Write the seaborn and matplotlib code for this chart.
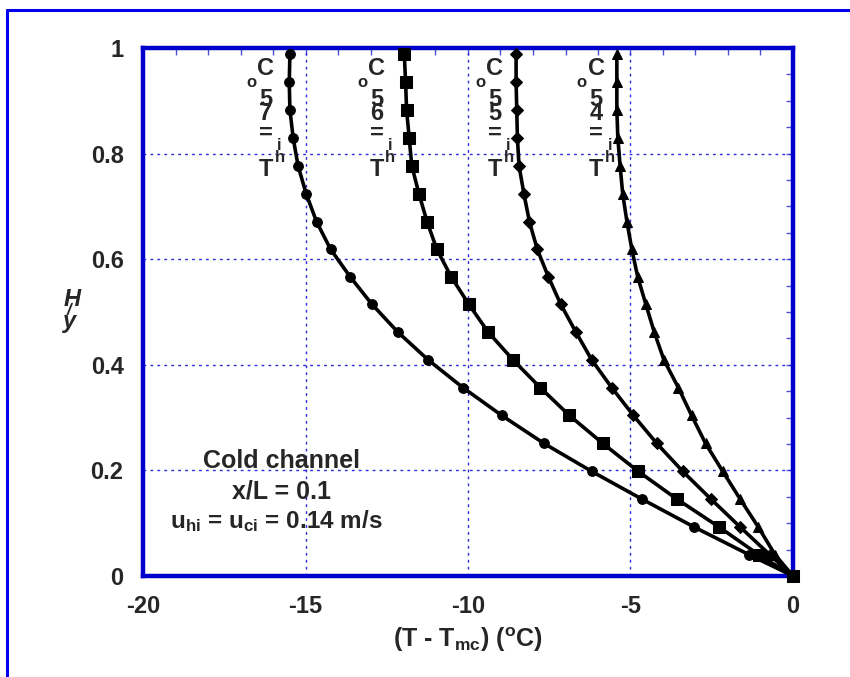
import matplotlib
matplotlib.use('Agg')
import pandas as pd
import matplotlib.pyplot as plt
from matplotlib.lines import Line2D
from matplotlib.ticker import MultipleLocator
import seaborn as sns

# y/H positions of the profile points
y_pos = [0, 0.040, 0.093, 0.146, 0.198, 0.251, 0.304, 0.357, 0.409, 0.462,
         0.515, 0.567, 0.619, 0.671, 0.724, 0.777, 0.830, 0.883, 0.935, 0.988]

# T - T_mc for each hot inlet temperature
dT_75 = [0, -1.34, -3.05, -4.66, -6.19, -7.66, -8.96, -10.16, -11.22, -12.16,
         -12.96, -13.63, -14.23, -14.66, -14.98, -15.23, -15.38, -15.48, -15.50, -15.48]
dT_65 = [0, -1.05, -2.28, -3.58, -4.76, -5.85, -6.88, -7.78, -8.61, -9.38,
         -9.98, -10.52, -10.96, -11.26, -11.51, -11.73, -11.81, -11.89, -11.92, -11.96]
dT_55 = [0, -0.71, -1.63, -2.53, -3.39, -4.19, -4.91, -5.58, -6.19, -6.68,
         -7.15, -7.53, -7.87, -8.11, -8.28, -8.43, -8.48, -8.50, -8.52, -8.52]
dT_45 = [0, -0.55, -1.07, -1.63, -2.16, -2.69, -3.12, -3.53, -3.97, -4.27,
         -4.53, -4.78, -4.96, -5.11, -5.24, -5.32, -5.39, -5.42, -5.42, -5.42]

inlet_temps = ['75', '65', '55', '45']
series = [dT_75, dT_65, dT_55, dT_45]
markers = ['o', 's', 'D', '^']
marker_sizes = [7, 8, 6, 7.5]
label_x = [-16.22, -12.81, -9.17, -6.06]

x_ticks = [-20, -15, -10, -5, 0]
y_ticks = [0, 0.2, 0.4, 0.6, 0.8, 1]

sns.set_style('white')
plt.rcParams['font.family'] = ['Liberation Sans', 'DejaVu Sans']
plt.rcParams['font.weight'] = 'bold'
plt.rcParams['axes.unicode_minus'] = False
plt.rcParams['mathtext.fontset'] = 'custom'
plt.rcParams['mathtext.rm'] = 'Liberation Sans:bold'
plt.rcParams['mathtext.it'] = 'Liberation Sans:bold'
plt.rcParams['mathtext.bf'] = 'Liberation Sans:bold'
plt.rcParams['mathtext.default'] = 'rm'

fig = plt.figure(figsize=(8.5, 6.77), dpi=100)
ax = fig.add_axes([143 / 850, 101 / 677, 650 / 850, 528 / 677])

grid_col = '#2b2bdd'
for gx in x_ticks[1:-1]:
    ax.axvline(gx, color=grid_col, lw=1, ls=(0, (2, 3)), zorder=1)
for gy in y_ticks[1:-1]:
    ax.axhline(gy, color=grid_col, lw=1, ls=(0, (2, 3)), zorder=1)

df = pd.DataFrame({'y': y_pos})
for temp, vals, mk, ms in zip(inlet_temps, series, markers, marker_sizes):
    df['dT'] = vals
    sns.lineplot(data=df, x='dT', y='y', sort=False, estimator=None, ax=ax,
                 color='black', lw=2.6, marker=mk, markersize=ms,
                 markeredgecolor='black', clip_on=False, zorder=5)

# stacked labels T_hi = .. oC
for temp, lx in zip(inlet_temps, label_x):
    big = [('C', 0.962), ('5', 0.902), (temp[0], 0.875), ('=', 0.839), ('T', 0.769)]
    for ch, cy in big:
        ax.text(lx, cy, ch, fontsize=17, fontweight='bold', ha='center', va='center', zorder=4)
    ax.text(lx - 0.44, 0.934, 'o', fontsize=12, fontweight='bold', ha='center', va='center', zorder=4)
    ax.text(lx + 0.42, 0.792, 'h', fontsize=12, fontweight='bold', ha='center', va='center', zorder=4)
    ax.text(lx + 0.42, 0.816, 'i', fontsize=12, fontweight='bold', ha='center', va='center', zorder=4)

ax.set_xlim(-20, 0)
ax.set_ylim(0, 1)
ax.set_xticks(x_ticks)
ax.set_yticks(y_ticks)
ax.set_yticklabels(['0', '0.2', '0.4', '0.6', '0.8', '1'])
ax.xaxis.set_minor_locator(MultipleLocator(1))
ax.yaxis.set_minor_locator(MultipleLocator(0.05))
ax.tick_params(which='both', direction='in', top=True, right=True,
               color='#5050e0', width=1, length=5)
ax.tick_params(axis='x', which='major', labelsize=17, pad=14)
ax.tick_params(axis='y', which='major', labelsize=17, pad=14)
for s in ax.spines.values():
    s.set_color('#0000cc')
    s.set_linewidth(3.2)
    s.set_zorder(3)
ax.set_xlabel('')
ax.set_ylabel('')

# annotation
ax.text(-15.75, 0.2175, 'Cold channel', fontsize=18, fontweight='bold', ha='center', va='center')
ax.text(-15.75, 0.1605, 'x/L = 0.1', fontsize=18, fontweight='bold', ha='center', va='center')
ax.text(-15.9, 0.104, r'u$_{hi}$ = u$_{ci}$ = 0.14 m/s', fontsize=17.5, fontweight='bold',
        ha='center', va='center')

# axis titles
fig.text(468 / 850, 1 - 640 / 677, r'(T - T$_{mc}$) ($^{o}$C)', fontsize=18,
         fontweight='bold', ha='center', va='center')
fig.text(72 / 850, 1 - 300 / 677, 'H', fontsize=17, fontweight='bold', style='italic',
         ha='center', va='center')
fig.text(70 / 850, 1 - 321 / 677, 'y', fontsize=17, fontweight='bold', style='italic',
         ha='center', va='center')
fig.text(69 / 850, 1 - 310 / 677, '/', fontsize=12, fontweight='bold', style='italic',
         ha='center', va='center')

# outer blue frame (left and top only)
fig.add_artist(Line2D([7 / 850, 7 / 850], [0, 1 - 10 / 677], color='#0000ee', lw=2.2))
fig.add_artist(Line2D([7 / 850, 1], [1 - 10 / 677, 1 - 10 / 677], color='#0000ee', lw=2.2))

fig.savefig('out.png', dpi=100)
